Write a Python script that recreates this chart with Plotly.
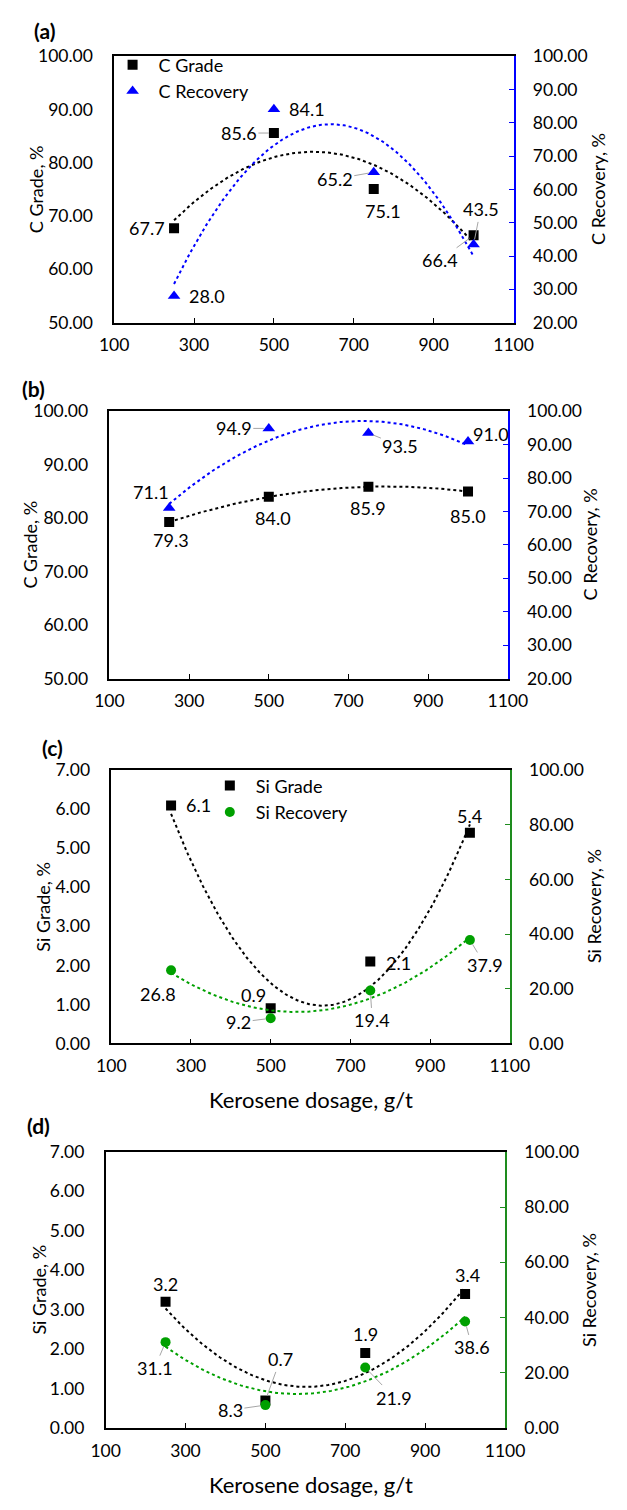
import numpy as np
import plotly.graph_objects as go

# Kerosene dosage (g/t) used in every test series
dosage = [250, 500, 750, 1000]

# (a) carbon grade / recovery
c_grade_a = [67.7, 85.6, 75.1, 66.4]
c_rec_a = [28.0, 84.1, 65.2, 43.5]
# (b) carbon grade / recovery
c_grade_b = [79.3, 84.0, 85.9, 85.0]
c_rec_b = [71.1, 94.9, 93.5, 91.0]
# (c) silicon grade / recovery
si_grade_c = [6.1, 0.9, 2.1, 5.4]
si_rec_c = [26.8, 9.2, 19.4, 37.9]
# (d) silicon grade / recovery
si_grade_d = [3.2, 0.7, 1.9, 3.4]
si_rec_d = [31.1, 8.3, 21.9, 38.6]

x_ticks = [100, 300, 500, 700, 900, 1100]

W, H = 627, 1510
FONT = "Lato, Carlito, Calibri, sans-serif"
BLUE = "#0000ff"
GREEN = "#00a000"
GREEN_AX = "#1e8c1e"
LEADER = "#a6a6a6"
TICK_SIZE = 17.5
TEXT_SIZE = 18


def px(xp):
    return xp / W


def py(yp):
    return 1 - yp / H


# plot-area boxes in pixels: (left, right, top, bottom)
boxes = [
    (105, 528, 46, 316),
    (100, 522, 406, 677),
    (102, 524, 770, 1047),
    (96, 519, 1157, 1437),
]

panels = [
    dict(grade=c_grade_a, rec=c_rec_a, gname="C Grade", rname="C Recovery",
         gsym="square", rsym="triangle-up", rcol=BLUE, axcol=BLUE,
         lrange=[50, 100], ldtick=10, rrange=[20, 100], rdtick=10,
         ltitle="C Grade, %", rtitle="C Recovery, %", legend="legend",
         # label offsets (dx, dy) in px from the marker, leader line flag
         goff=[(-27, 0, 0), (-35, 0, 1), (9, 22, 0), (-34, 25, 1)],
         roff=[(33, 0, 0), (33, 0, 0), (-39, 7, 1), (7, -35, 1)],
         tag="(a)", tagpos=(31, 20), lt=(23, 181), rt=(618, 181)),
    dict(grade=c_grade_b, rec=c_rec_b, gname="C Grade", rname="C Recovery",
         gsym="square", rsym="triangle-up", rcol=BLUE, axcol=BLUE,
         lrange=[50, 100], ldtick=10, rrange=[20, 100], rdtick=10,
         ltitle="C Grade, %", rtitle="C Recovery, %", legend=None,
         goff=[(2, 18, 0), (4, 21, 0), (0, 21, 0), (0, 24, 0)],
         roff=[(-18, -16, 0), (-35, 0, 1), (32, 13, 1), (23, -7, 0)],
         tag="(b)", tagpos=(20, 383), lt=(16, 541), rt=(610, 541)),
    dict(grade=si_grade_c, rec=si_rec_c, gname="Si Grade", rname="Si Recovery",
         gsym="square", rsym="circle", rcol=GREEN, axcol=GREEN_AX,
         lrange=[0, 7], ldtick=1, rrange=[0, 100], rdtick=20,
         ltitle="Si Grade, %", rtitle="Si Recovery, %", legend="legend2",
         goff=[(27, 0, 0), (-17, -13, 0), (28, 2, 0), (0, -17, 0)],
         roff=[(-13, 24, 0), (-32, 4, 1), (2, 30, 1), (15, 25, 1)],
         tag="(c)", tagpos=(40, 747), lt=(30, 908), rt=(614, 908)),
    dict(grade=si_grade_d, rec=si_rec_d, gname="Si Grade", rname="Si Recovery",
         gsym="square", rsym="circle", rcol=GREEN, axcol=GREEN_AX,
         lrange=[0, 7], ldtick=1, rrange=[0, 100], rdtick=20,
         ltitle="Si Grade, %", rtitle="Si Recovery, %", legend=None,
         goff=[(0, -18, 0), (15, -41, 1), (0, -19, 0), (2, -19, 0)],
         roff=[(-11, 26, 1), (-35, 5, 1), (29, 30, 1), (7, 26, 1)],
         tag="(d)", tagpos=(25, 1130), lt=(25, 1297), rt=(608, 1297)),
]

fig = go.Figure()
annotations = []
layout_axes = {}

xs_fit = np.linspace(dosage[0], dosage[-1], 200)

for i, p in enumerate(panels, start=1):
    l, r, t, b = boxes[i - 1]
    xa = "x" if i == 1 else f"x{i}"
    yl_n, yr_n = 2 * i - 1, 2 * i
    yl = "y" if yl_n == 1 else f"y{yl_n}"
    yr = f"y{yr_n}"
    xdom = [px(l), px(r)]
    ydom = [py(b), py(t)]

    # second-order polynomial trendlines
    g_fit = np.polyval(np.polyfit(dosage, p["grade"], 2), xs_fit)
    r_fit = np.polyval(np.polyfit(dosage, p["rec"], 2), xs_fit)
    fig.add_trace(go.Scatter(x=xs_fit, y=g_fit, mode="lines", xaxis=xa, yaxis=yl,
                             line=dict(color="black", width=2, dash="dot"),
                             showlegend=False, hoverinfo="skip"))
    fig.add_trace(go.Scatter(x=xs_fit, y=r_fit, mode="lines", xaxis=xa, yaxis=yr,
                             line=dict(color=p["rcol"], width=2, dash="dot"),
                             showlegend=False, hoverinfo="skip"))

    show_leg = p["legend"] is not None
    leg = p["legend"] or "legend"
    fig.add_trace(go.Scatter(x=dosage, y=p["grade"], mode="markers", name=p["gname"],
                             xaxis=xa, yaxis=yl, legend=leg, showlegend=show_leg,
                             marker=dict(symbol=p["gsym"], size=10, color="black")))
    rsize = 11 if p["rsym"] == "triangle-up" else 10
    fig.add_trace(go.Scatter(x=dosage, y=p["rec"], mode="markers", name=p["rname"],
                             xaxis=xa, yaxis=yr, legend=leg, showlegend=show_leg,
                             marker=dict(symbol=p["rsym"], size=rsize, color=p["rcol"])))

    # data labels
    for vals, offs, yref in ((p["grade"], p["goff"], yl), (p["rec"], p["roff"], yr)):
        for xv, yv, (dx, dy, lead) in zip(dosage, vals, offs):
            if lead:
                annotations.append(dict(
                    x=xv, y=yv, xref=xa, yref=yref, text=f"{yv:.1f}",
                    showarrow=True, arrowhead=0, arrowwidth=1, arrowcolor=LEADER,
                    ax=dx, ay=dy, axref="pixel", ayref="pixel", standoff=5,
                    font=dict(family=FONT, size=TEXT_SIZE, color="black")))
            else:
                annotations.append(dict(
                    x=xv, y=yv, xref=xa, yref=yref, text=f"{yv:.1f}",
                    showarrow=False, xshift=dx, yshift=-dy,
                    font=dict(family=FONT, size=TEXT_SIZE, color="black")))

    tickfont = dict(family=FONT, size=TICK_SIZE, color="black")
    layout_axes[f"xaxis{i if i > 1 else ''}"] = dict(
        domain=xdom, anchor=yl, range=[100, 1100], tickvals=x_ticks,
        ticks="inside", ticklen=5, tickwidth=1.3, tickcolor="black",
        showline=True, linecolor="black", linewidth=1.5, mirror=True,
        showgrid=False, zeroline=False, tickfont=tickfont, ticklabelstandoff=6)
    layout_axes[f"yaxis{yl_n if yl_n > 1 else ''}"] = dict(
        domain=ydom, anchor=xa, range=p["lrange"], dtick=p["ldtick"],
        tickformat=".2f", ticks="", showline=True, linecolor="black", linewidth=1.5,
        showgrid=False, zeroline=False, tickfont=tickfont, ticklabelstandoff=16)
    layout_axes[f"yaxis{yr_n}"] = dict(
        domain=ydom, anchor=xa, overlaying=yl, side="right",
        range=p["rrange"], dtick=p["rdtick"], tickformat=".2f",
        ticks="inside", ticklen=5, tickwidth=1.3, tickcolor=p["axcol"],
        showline=True, linecolor=p["axcol"], linewidth=1.5,
        showgrid=False, zeroline=False, tickfont=tickfont, ticklabelstandoff=14)

    # axis titles and panel tag
    annotations.append(dict(x=px(p["lt"][0]), y=py(p["lt"][1]), xref="paper", yref="paper",
                            text=p["ltitle"], textangle=-90, showarrow=False,
                            xanchor="center", yanchor="middle",
                            font=dict(family=FONT, size=TEXT_SIZE, color="black")))
    annotations.append(dict(x=px(p["rt"][0]), y=py(p["rt"][1]), xref="paper", yref="paper",
                            text=p["rtitle"], textangle=-90, showarrow=False,
                            xanchor="center", yanchor="middle",
                            font=dict(family=FONT, size=TEXT_SIZE, color="black")))
    annotations.append(dict(x=px(p["tagpos"][0]), y=py(p["tagpos"][1]), xref="paper",
                            yref="paper", text=f"<b>{p['tag']}</b>", showarrow=False,
                            xanchor="center", yanchor="middle",
                            font=dict(family=FONT, size=21, color="black")))

# shared x-axis titles under (c) and (d)
for yp in (1104, 1494):
    annotations.append(dict(x=px(313), y=py(yp), xref="paper", yref="paper",
                            text="Kerosene dosage, g/t", showarrow=False,
                            xanchor="center", yanchor="middle",
                            font=dict(family=FONT, size=22, color="black")))

legend_style = dict(font=dict(family=FONT, size=TEXT_SIZE, color="black"),
                    bgcolor="rgba(0,0,0,0)", xanchor="left", yanchor="top",
                    tracegroupgap=0, itemwidth=42)

fig.update_layout(
    width=W, height=H,
    margin=dict(l=0, r=0, t=0, b=0),
    paper_bgcolor="white", plot_bgcolor="white",
    annotations=annotations,
    legend=dict(x=px(97), y=py(36), **legend_style),
    legend2=dict(x=px(200), y=py(767), **legend_style),
    **layout_axes,
)

fig.write_html("out.html")
